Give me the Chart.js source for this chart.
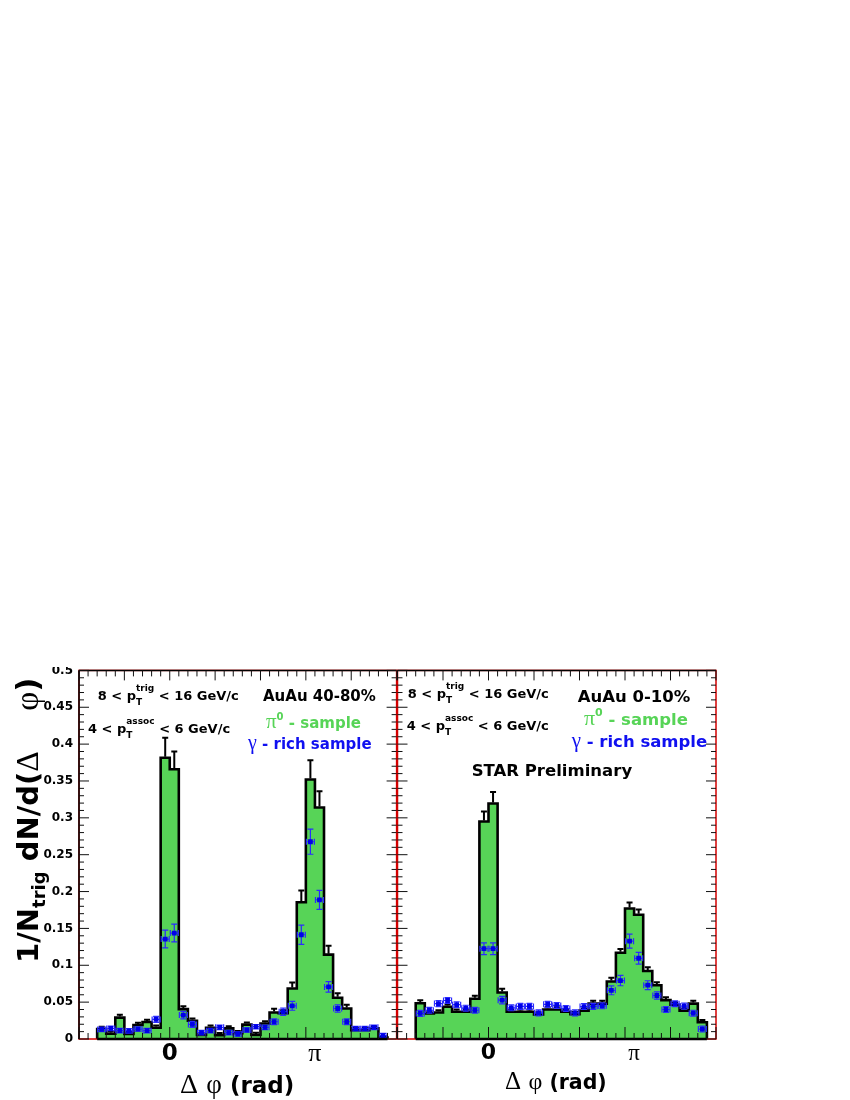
<!DOCTYPE html>
<html><head><meta charset="utf-8">
<script src="https://cdn.jsdelivr.net/npm/chart.js@4.4.1/dist/chart.umd.min.js"></script>
<style>
html,body{margin:0;padding:0;background:#fff;width:850px;height:1100px;overflow:hidden;}
canvas{position:absolute;}
#cL{left:0;top:667px;}
#cR{left:380px;top:667px;}
</style></head><body>
<canvas id="cL" width="400" height="433"></canvas>
<canvas id="cR" width="470" height="433"></canvas>
<script>
// ---------------- data ----------------
// 32 bins of width pi/16 from -pi/2 to 3pi/2
const binEdges = Array.from({length: 33}, (_, i) => -Math.PI / 2 + i * Math.PI / 16);
const binCenters = binEdges.slice(0, 32).map(e => e + Math.PI / 32);

// AuAu 40-80%
const pi0Peripheral = [0.0135, 0.0072, 0.029, 0.007, 0.019, 0.023, 0.0153, 0.3815, 0.366, 0.0405,
  0.0248, 0.0054, 0.0153, 0.005, 0.0144, 0.0077, 0.0195, 0.0054, 0.021, 0.036,
  0.035, 0.0685, 0.1856, 0.352, 0.314, 0.1144, 0.056, 0.0414, 0.012, 0.012, 0.0145, 0.002];
const pi0PeripheralErr = [0.003, 0.003, 0.004, 0.003, 0.003, 0.003, 0.003, 0.027, 0.024, 0.004,
  0.003, 0.003, 0.003, 0.003, 0.003, 0.003, 0.003, 0.003, 0.003, 0.005,
  0.004, 0.008, 0.016, 0.026, 0.022, 0.012, 0.006, 0.005, 0.003, 0.003, 0.003, 0.002];
const gammaPeripheral = [0.013, 0.0144, 0.0113, 0.011, 0.0135, 0.0113, 0.0266, 0.1356, 0.1437, 0.0324,
  0.0198, 0.0086, 0.0113, 0.0158, 0.0086, 0.0068, 0.0122, 0.0167, 0.0158, 0.0234,
  0.037, 0.045, 0.1414, 0.2676, 0.1887, 0.0707, 0.0414, 0.0234, 0.014, 0.014, 0.0158, 0.0045];
const gammaPeripheralErr = [0.003, 0.003, 0.003, 0.003, 0.003, 0.003, 0.004, 0.012, 0.012, 0.005,
  0.004, 0.003, 0.003, 0.003, 0.003, 0.003, 0.003, 0.003, 0.003, 0.004,
  0.005, 0.006, 0.013, 0.017, 0.013, 0.007, 0.005, 0.004, 0.003, 0.003, 0.003, 0.003];

// AuAu 0-10%
const pi0Central = [0.0485, 0.0347, 0.036, 0.0437, 0.037, 0.037, 0.0545, 0.295, 0.3194, 0.063,
  0.037, 0.037, 0.037, 0.0333, 0.04, 0.04, 0.037, 0.0335, 0.0385, 0.048,
  0.048, 0.078, 0.117, 0.177, 0.1685, 0.0923, 0.073, 0.0527, 0.0465, 0.0385, 0.048, 0.0228];
const pi0CentralErr = [0.004, 0.003, 0.003, 0.003, 0.003, 0.003, 0.004, 0.0135, 0.0155, 0.005,
  0.003, 0.003, 0.003, 0.003, 0.003, 0.003, 0.003, 0.003, 0.003, 0.004,
  0.004, 0.005, 0.005, 0.008, 0.007, 0.005, 0.004, 0.004, 0.003, 0.003, 0.004, 0.003];
const gammaCentral = [0.0347, 0.039, 0.048, 0.0522, 0.0465, 0.0418, 0.039, 0.1225, 0.1225, 0.0527,
  0.0423, 0.0442, 0.0442, 0.0355, 0.047, 0.0455, 0.0414, 0.0355, 0.044, 0.0443,
  0.045, 0.066, 0.0792, 0.1327, 0.1095, 0.073, 0.059, 0.040, 0.0478, 0.0446, 0.035, 0.0135];
const gammaCentralErr = [0.004, 0.004, 0.004, 0.004, 0.004, 0.004, 0.004, 0.008, 0.008, 0.005,
  0.004, 0.004, 0.004, 0.004, 0.004, 0.004, 0.004, 0.004, 0.004, 0.004,
  0.004, 0.006, 0.007, 0.0095, 0.008, 0.006, 0.005, 0.004, 0.004, 0.004, 0.004, 0.004];

const xTickValues = [0, Math.PI];
const xTickLabels = ['0', 'π'];

// ---------------- styling ----------------
const SANS = '"DejaVu Sans", sans-serif';
const SERIF = '"Liberation Serif", "DejaVu Serif", serif';
const GREEN = '#57d457';
const BLUE = '#1010f0';
const B = s => 'bold ' + s + 'px ' + SANS;
const S = s => s + 'px ' + SERIF;

function histPoints(vals) {
  const pts = [{x: binEdges[0], y: 0}];
  vals.forEach((v, i) => pts.push({x: binEdges[i], y: v}));
  pts.push({x: binEdges[32], y: 0});
  return pts;
}

function drawRich(ctx, x, y, segs, color) {
  let cx = x;
  ctx.textAlign = 'left';
  ctx.textBaseline = 'alphabetic';
  for (const s of segs) {
    ctx.fillStyle = s.color || color;
    ctx.font = s.f;
    if (s.sup !== undefined || s.sub !== undefined) {
      const w1 = s.sup ? ctx.measureText(s.sup).width : 0;
      const w2 = s.sub ? ctx.measureText(s.sub).width : 0;
      if (s.sup) ctx.fillText(s.sup, cx, y + s.supDy);
      if (s.sub) ctx.fillText(s.sub, cx, y + s.subDy);
      cx += Math.max(w1, w2);
    } else {
      ctx.fillText(s.t, cx, y + (s.dy || 0));
      cx += ctx.measureText(s.t).width;
    }
  }
  return cx - x;
}

const errPlugin = {
  id: 'errbars',
  beforeDatasetDraw(chart, args) {
    const ds = chart.data.datasets[args.index];
    if (ds.kind !== 'points') return;
    const ctx = chart.ctx, xs = chart.scales.x, ys = chart.scales.y;
    ctx.save();
    ctx.strokeStyle = '#2a2aff';
    ctx.lineWidth = 1.2;
    ds.vals.forEach((v, i) => {
      const cx = xs.getPixelForValue(binCenters[i]);
      const cy = ys.getPixelForValue(v);
      const yt = ys.getPixelForValue(v + ds.errs[i]);
      const yb = ys.getPixelForValue(v - ds.errs[i]);
      const hx = 4;
      ctx.beginPath();
      ctx.moveTo(cx, yt); ctx.lineTo(cx, yb);
      ctx.moveTo(cx - 3, yt); ctx.lineTo(cx + 3, yt);
      ctx.moveTo(cx - 3, yb); ctx.lineTo(cx + 3, yb);
      ctx.moveTo(cx - hx, cy); ctx.lineTo(cx + hx, cy);
      ctx.moveTo(cx - hx, cy - 3); ctx.lineTo(cx - hx, cy + 3);
      ctx.moveTo(cx + hx, cy - 3); ctx.lineTo(cx + hx, cy + 3);
      ctx.stroke();
    });
    ctx.restore();
  },
  afterDatasetDraw(chart, args) {
    const ds = chart.data.datasets[args.index];
    if (ds.kind !== 'hist') return;
    const ctx = chart.ctx, xs = chart.scales.x, ys = chart.scales.y;
    ctx.save();
    ctx.strokeStyle = '#000';
    ctx.lineWidth = 2;
    ds.vals.forEach((v, i) => {
      const cx = xs.getPixelForValue(binCenters[i]);
      const y0 = ys.getPixelForValue(v);
      const y1 = ys.getPixelForValue(v + ds.errs[i]);
      ctx.beginPath();
      ctx.moveTo(cx, y0 - 1); ctx.lineTo(cx, y1);
      ctx.moveTo(cx - 3, y1); ctx.lineTo(cx + 3, y1);
      ctx.stroke();
    });
    ctx.restore();
  }
};

const decoPlugin = {
  id: 'deco',
  afterDraw(chart, args, o) {
    const ctx = chart.ctx, a = chart.chartArea, xs = chart.scales.x, ys = chart.scales.y;
    ctx.save();
    // frame
    ctx.strokeStyle = '#d40000';
    ctx.lineWidth = 1.5;
    ctx.strokeRect(a.left, a.top, a.right - a.left, a.bottom - a.top);
    ctx.strokeStyle = '#000';
    ctx.lineWidth = 1.5;
    ctx.beginPath();
    ctx.moveTo(a.left, a.top); ctx.lineTo(a.right, a.top);
    if (o.leftAxis) { ctx.moveTo(a.left, a.top); ctx.lineTo(a.left, a.bottom); }
    ctx.stroke();
    // baseline under histogram
    ctx.lineWidth = 2.5;
    ctx.beginPath();
    ctx.moveTo(xs.getPixelForValue(binEdges[0]), a.bottom);
    ctx.lineTo(xs.getPixelForValue(binEdges[32]), a.bottom);
    ctx.stroke();
    // ticks
    ctx.lineWidth = 1;
    ctx.strokeStyle = '#111';
    ctx.beginPath();
    for (let k = -10; k <= 25; k++) {
      const px = xs.getPixelForValue(k * Math.PI / 16);
      const major = k % 5 === 0;
      ctx.moveTo(px, a.bottom); ctx.lineTo(px, a.bottom - (major ? 12 : 6));
      ctx.moveTo(px, a.top); ctx.lineTo(px, a.top + (major ? 10 : 6));
    }
    for (let j = 0; j <= 50; j++) {
      const py = ys.getPixelForValue(j / 100);
      const major = j % 5 === 0;
      const L = major ? 10 : 5;
      ctx.moveTo(a.left, py); ctx.lineTo(a.left + L, py);
      ctx.moveTo(a.right, py); ctx.lineTo(a.right - L, py);
    }
    ctx.stroke();
    // texts (page coordinates -> canvas)
    for (const t of o.texts) {
      ctx.save();
      ctx.translate(t.x - o.ox, t.y - o.oy);
      if (t.rot) ctx.rotate(t.rot);
      drawRich(ctx, 0, 0, t.segs, t.color || '#000');
      ctx.restore();
    }
    ctx.restore();
  }
};

function makeChart(id, pi0, pi0Err, gam, gamErr, cfg) {
  return new Chart(document.getElementById(id), {
    type: 'line',
    data: {
      datasets: [
        {
          kind: 'hist', vals: pi0, errs: pi0Err, order: 2,
          data: histPoints(pi0),
          stepped: true, fill: 'origin',
          backgroundColor: GREEN, borderColor: '#000', borderWidth: 2.6,
          pointRadius: 0, tension: 0
        },
        {
          kind: 'points', vals: gam, errs: gamErr, order: 1,
          data: binCenters.map((x, i) => ({x, y: gam[i]})),
          showLine: false, pointStyle: 'rect', pointRadius: 3.4,
          pointBackgroundColor: '#0000e8', pointBorderWidth: 0, pointHoverRadius: 3.4
        }
      ]
    },
    options: {
      responsive: false, animation: false, devicePixelRatio: 1,
      events: [],
      layout: {padding: {top: 2, left: 0, bottom: 0, right: cfg.padRight}},
      plugins: {legend: {display: false}, tooltip: {enabled: false},
        deco: {ox: cfg.ox, oy: 667, leftAxis: cfg.leftAxis, texts: cfg.texts}},
      scales: {
        x: {
          type: 'linear', min: -10 * Math.PI / 16, max: 25 * Math.PI / 16,
          grid: {display: false, drawTicks: false}, border: {display: false},
          afterBuildTicks: s => { s.ticks = xTickValues.map(v => ({value: v})); },
          afterFit: s => { s.height = 61; s.paddingLeft = 0; s.paddingRight = 0; },
          ticks: {
            autoSkip: false, maxRotation: 0, minRotation: 0, padding: 1, color: '#000',
            callback: v => xTickLabels[xTickValues.indexOf(v)],
            font: c => (c.tick && c.tick.value === 0)
              ? {family: SANS, weight: 'bold', size: cfg.zeroSize, lineHeight: 1.2}
              : {family: SERIF, size: cfg.piSize, lineHeight: cfg.piLH}
          }
        },
        y: {
          min: 0, max: 0.5,
          grid: {display: false, drawTicks: false}, border: {display: false},
          afterFit: s => { s.width = cfg.yWidth; s.paddingTop = 0; s.paddingBottom = 0; },
          ticks: {
            display: cfg.yLabels, stepSize: 0.05, padding: 6, color: '#000',
            font: {family: SANS, weight: 'bold', size: 12},
            callback: v => String(+v.toFixed(2))
          }
        }
      }
    },
    plugins: [errPlugin, decoPlugin]
  });
}

const leftTexts = [
  {x: 97.7, y: 700, segs: [{t: '8 < p', f: B(13)}, {sup: 'trig', sub: 'T', f: B(9), supDy: -9.5, subDy: 5}, {t: ' < 16 GeV/c', f: B(13)}]},
  {x: 88, y: 733, segs: [{t: '4 < p', f: B(13)}, {sup: 'assoc', sub: 'T', f: B(9), supDy: -9.5, subDy: 5}, {t: ' < 6 GeV/c', f: B(13)}]},
  {x: 263, y: 700.5, segs: [{t: 'AuAu 40-80%', f: B(15)}]},
  {x: 266, y: 727.5, color: GREEN, segs: [{t: 'π', f: S(21)}, {t: '0', f: B(10), dy: -8}, {t: ' - sample', f: B(15)}]},
  {x: 248, y: 748.5, color: BLUE, segs: [{t: 'γ', f: S(20)}, {t: ' - rich sample', f: B(15)}]},
  {x: 38, y: 963, rot: -Math.PI / 2, segs: [{t: '1/N', f: B(29)}, {t: 'trig', f: B(18), dy: 7}, {t: ' dN/d(', f: B(29)}, {t: 'Δ', f: S(32)}, {t: '    ', f: B(29)}, {t: 'φ', f: S(33)}, {t: ')', f: B(31)}]},
  {x: 180, y: 1092.5, segs: [{t: 'Δ', f: S(28)}, {t: ' ', f: B(24)}, {t: 'φ', f: S(27)}, {t: ' (rad)', f: B(23)}]}
];
const rightTexts = [
  {x: 407.7, y: 698, segs: [{t: '8 < p', f: B(13)}, {sup: 'trig', sub: 'T', f: B(9), supDy: -9.5, subDy: 5}, {t: ' < 16 GeV/c', f: B(13)}]},
  {x: 406.7, y: 730, segs: [{t: '4 < p', f: B(13)}, {sup: 'assoc', sub: 'T', f: B(9), supDy: -9.5, subDy: 5}, {t: ' < 6 GeV/c', f: B(13)}]},
  {x: 577.7, y: 702, segs: [{t: 'AuAu 0-10%', f: B(16.5)}]},
  {x: 584, y: 725, color: GREEN, segs: [{t: 'π', f: S(22)}, {t: '0', f: B(11), dy: -9}, {t: ' - sample', f: B(16.5)}]},
  {x: 571.7, y: 747, color: BLUE, segs: [{t: 'γ', f: S(21)}, {t: ' - rich sample', f: B(16.5)}]},
  {x: 471.7, y: 776, segs: [{t: 'STAR Preliminary', f: B(16.5)}]},
  {x: 505, y: 1089, segs: [{t: 'Δ', f: S(25)}, {t: ' ', f: B(21)}, {t: 'φ', f: S(24)}, {t: ' (rad)', f: B(20.5)}]}
];

makeChart('cL', pi0Peripheral, pi0PeripheralErr, gammaPeripheral, gammaPeripheralErr,
  {ox: 0, padRight: 2.5, yWidth: 79, yLabels: true, leftAxis: true, zeroSize: 23, piSize: 26, piLH: 1.1, texts: leftTexts});
makeChart('cR', pi0Central, pi0CentralErr, gammaCentral, gammaCentralErr,
  {ox: 380, padRight: 134, yWidth: 17.5, yLabels: false, leftAxis: false, zeroSize: 22, piSize: 23, piLH: 1.25, texts: rightTexts});
</script>
</body></html>
